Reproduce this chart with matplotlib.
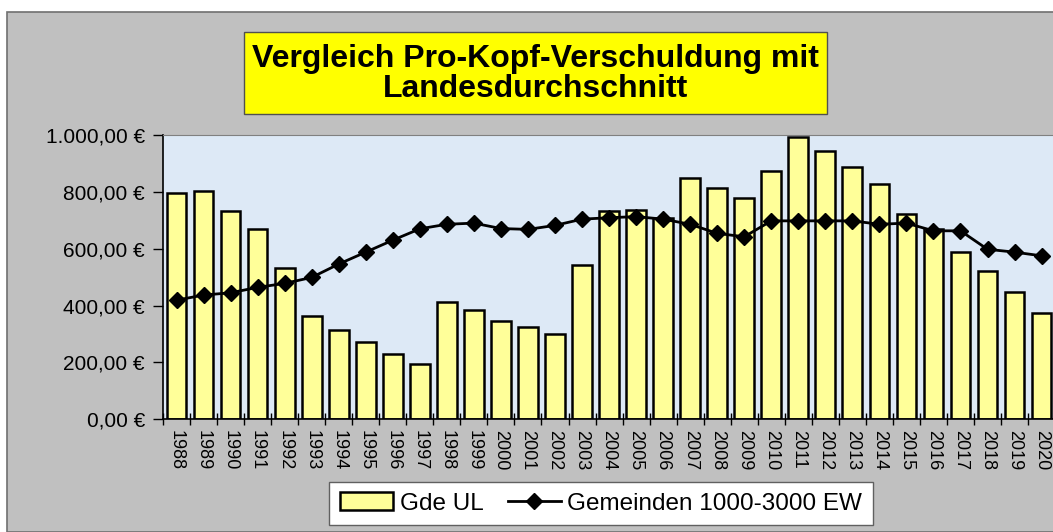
import numpy as np
import matplotlib.pyplot as plt
from matplotlib.patches import Rectangle
from matplotlib.ticker import FuncFormatter, MultipleLocator

plt.rcParams['font.family'] = ['Liberation Sans', 'DejaVu Sans']

# Data
years = [str(y) for y in range(1988, 2021)]
gde_ul = [796, 802, 732, 670, 531, 364, 314, 271, 230, 196, 411, 383, 347, 323, 300,
          541, 732, 736, 708, 848, 813, 778, 872, 993, 944, 889, 826, 722, 668, 589,
          521, 447, 375]
gemeinden = [419, 437, 445, 464, 478, 499, 546, 588, 630, 670, 686, 690, 671, 668, 682,
             704, 709, 713, 704, 686, 654, 642, 698, 698, 698, 698, 686, 690, 663, 663,
             598, 588, 575]

W, H = 1053, 532
fig = plt.figure(figsize=(W / 100, H / 100), dpi=100, facecolor='white')

# gray chart area with a thin border
bg = Rectangle((7 / W, 0), 1, 1 - 12 / H, transform=fig.transFigure,
               facecolor='#c0c0c0', edgecolor='#707070', lw=1.2, zorder=-5)
fig.patches.append(bg)

ax = fig.add_axes([163 / W, 1 - 419.3 / H, 1 - 163 / W + 0.002, (419.3 - 135) / H])
ax.set_zorder(2)
ax.set_facecolor('#dde9f6')

x = np.arange(len(years))
bars = ax.bar(x, gde_ul, width=0.73, color='#ffff99', edgecolor='black', linewidth=1.8,
              label='Gde UL', zorder=2)
line, = ax.plot(x, gemeinden, color='black', lw=2, marker='D', markersize=8.5,
                label='Gemeinden 1000-3000 EW', zorder=3)

ax.set_ylim(0, 1000)
ax.set_xlim(-0.5, len(years) - 0.5)
ax.yaxis.set_major_locator(MultipleLocator(200))
ax.yaxis.set_major_formatter(FuncFormatter(
    lambda v, p: f'{v:,.2f}'.replace(',', 'X').replace('.', ',').replace('X', '.') + ' €'))
ax.tick_params(axis='y', labelsize=15, direction='out', length=7, width=1, pad=6)

ax.set_xticks(x)
ax.set_xticklabels(years, rotation=270, fontsize=13)
ax.set_xticks(np.arange(-0.5, len(years), 1), minor=True)
ax.tick_params(axis='x', which='major', length=0, pad=8)
ax.tick_params(axis='x', which='minor', direction='inout', length=8, width=1)

for s in ['left', 'bottom']:
    ax.spines[s].set_color('black')
    ax.spines[s].set_linewidth(1.2)
ax.spines['top'].set_color('#808080')
ax.spines['right'].set_visible(False)

# title box
fig.patches.append(Rectangle((244 / W, 1 - 114 / H), (827 - 244) / W, (114 - 32) / H,
                             transform=fig.transFigure, facecolor='#ffff00',
                             edgecolor='#505050', lw=1, zorder=1))
fig.text(535.5 / W, 1 - 74 / H, 'Vergleich Pro-Kopf-Verschuldung mit\nLandesdurchschnitt',
         ha='center', va='center', fontsize=23, fontweight='bold', linespacing=1.0,
         zorder=3)

leg = fig.legend(handles=[bars, line], loc='center', bbox_to_anchor=(601 / W, 1 - 503.5 / H),
                 ncol=2, fontsize=17.5, frameon=True, fancybox=False, edgecolor='#606060',
                 framealpha=1, handlelength=2.2, handletextpad=0.25, columnspacing=1.0,
                 borderpad=0.45)
leg.get_frame().set_linewidth(1)

fig.savefig('out.png', dpi=100)
